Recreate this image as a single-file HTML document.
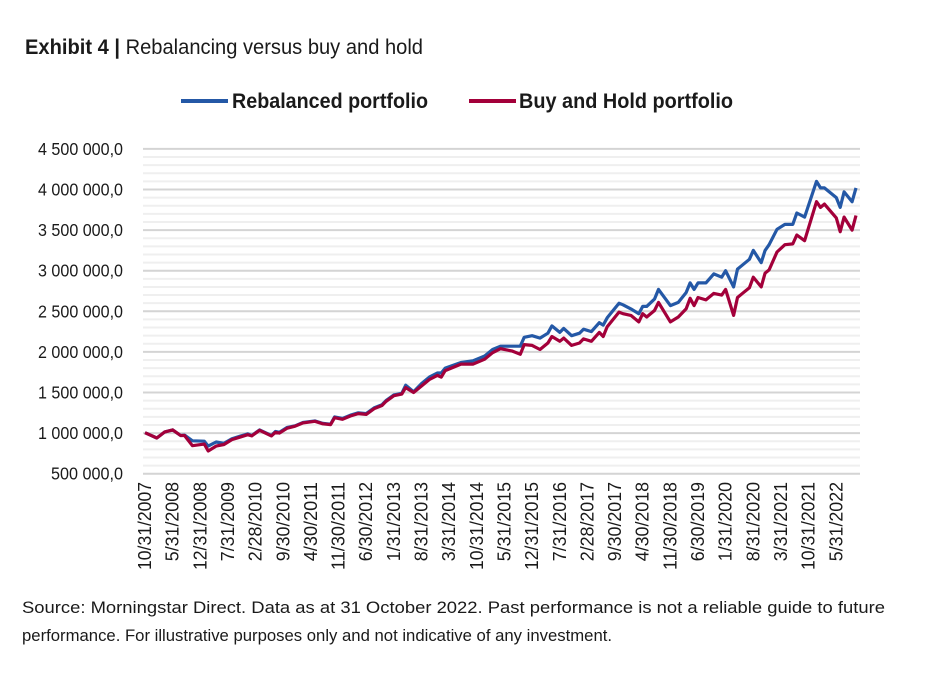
<!DOCTYPE html>
<html><head><meta charset="utf-8"><style>
html,body{margin:0;padding:0;background:#fff;}
svg{display:block;}
text{font-family:"Liberation Sans Narrow","Liberation Sans",sans-serif;fill:#1a1a1a;}
</style></head><body>
<svg id="chart" width="925" height="676" viewBox="0 0 925 676" xmlns="http://www.w3.org/2000/svg">
<text x="25" y="54" font-size="21" textLength="398" lengthAdjust="spacingAndGlyphs"><tspan font-weight="bold">Exhibit 4 |</tspan> Rebalancing versus buy and hold</text>
<g>
<g>
<line x1="181" y1="101" x2="228" y2="101" stroke="#2458a6" stroke-width="4"/>
<text x="232" y="108" font-size="21" font-weight="bold" textLength="196" lengthAdjust="spacingAndGlyphs">Rebalanced portfolio</text>
</g>
<g>
<line x1="469" y1="101" x2="516" y2="101" stroke="#a3003a" stroke-width="4"/>
<text x="519" y="108" font-size="21" font-weight="bold" textLength="214" lengthAdjust="spacingAndGlyphs">Buy and Hold portfolio</text>
</g>
</g>
<g id="grid"></g>
<g id="yaxis"></g>
<g id="xaxis"></g>
<g id="series"></g>
<g>
<text x="22" y="613" font-size="17" textLength="863" lengthAdjust="spacingAndGlyphs">Source: Morningstar Direct. Data as at 31 October 2022. Past performance is not a reliable guide to future</text>
<text x="22" y="641" font-size="17" textLength="590" lengthAdjust="spacingAndGlyphs">performance. For illustrative purposes only and not indicative of any investment.</text>
</g>
</svg>
<script>
// months since 10/31/2007
const months = [0,3,5,7,9,10,12,15,16,18,20,22,24,26,27,29,32,33,34,36,38,40,43,45,47,48,50,52,54,56,58,60,61,63,65,66,68,70,72,74,75,76,80,83,86,88,90,93,95,96,98,100,102,103,105,106,108,110,111,113,115,116,117,120,121,123,125,126,127,129,130,133,135,137,138,139,140,142,144,146,147,149,150,151,153,154,156,157,158,160,162,164,165,167,170,171,172,175,176,177,179,180];
const rebalanced = [1.005,0.94,1.015,1.04,0.97,0.975,0.905,0.9,0.84,0.89,0.875,0.93,0.96,0.99,0.97,1.04,0.97,1.02,1.01,1.07,1.09,1.13,1.15,1.12,1.11,1.2,1.18,1.22,1.25,1.24,1.31,1.35,1.40,1.47,1.49,1.59,1.51,1.61,1.69,1.74,1.74,1.80,1.87,1.89,1.95,2.03,2.07,2.07,2.07,2.18,2.2,2.17,2.23,2.32,2.24,2.29,2.2,2.23,2.28,2.25,2.36,2.33,2.42,2.6,2.58,2.53,2.47,2.56,2.56,2.65,2.77,2.57,2.61,2.73,2.85,2.77,2.85,2.85,2.96,2.92,3.0,2.8,3.02,3.06,3.14,3.25,3.1,3.25,3.32,3.51,3.57,3.57,3.71,3.66,4.1,4.02,4.02,3.9,3.78,3.97,3.85,4.02];
const buyHold = [1.005,0.94,1.015,1.04,0.97,0.97,0.845,0.865,0.78,0.84,0.86,0.92,0.95,0.98,0.965,1.035,0.965,1.01,1.0,1.06,1.085,1.125,1.145,1.115,1.105,1.19,1.17,1.21,1.24,1.23,1.3,1.34,1.39,1.46,1.48,1.56,1.50,1.58,1.66,1.71,1.69,1.77,1.85,1.85,1.91,1.99,2.04,2.01,1.97,2.09,2.08,2.03,2.11,2.19,2.13,2.17,2.08,2.11,2.16,2.13,2.24,2.19,2.31,2.49,2.47,2.45,2.37,2.47,2.43,2.51,2.61,2.37,2.43,2.53,2.66,2.57,2.67,2.64,2.72,2.7,2.77,2.45,2.67,2.71,2.79,2.92,2.8,2.97,3.01,3.23,3.32,3.33,3.44,3.37,3.85,3.78,3.82,3.65,3.48,3.66,3.5,3.68];
const yTicks = [0.5,1,1.5,2,2.5,3,3.5,4,4.5];
const yTickLabels = ["500 000,0","1 000 000,0","1 500 000,0","2 000 000,0","2 500 000,0","3 000 000,0","3 500 000,0","4 000 000,0","4 500 000,0"];
const xLabelMonths = [0,7,14,21,28,35,42,49,56,63,70,77,84,91,98,105,112,119,126,133,140,147,154,161,168,175];
const xLabels = ["10/31/2007","5/31/2008","12/31/2008","7/31/2009","2/28/2010","9/30/2010","4/30/2011","11/30/2011","6/30/2012","1/31/2013","8/31/2013","3/31/2014","10/31/2014","5/31/2015","12/31/2015","7/31/2016","2/28/2017","9/30/2017","4/30/2018","11/30/2018","6/30/2019","1/31/2020","8/31/2020","3/31/2021","10/31/2021","5/31/2022"];

const NS="http://www.w3.org/2000/svg";
const X0=145, PXM=3.95, Y0=473.7, PXV=81.2, XL=143, XR=860;
function xs(m){return X0+m*PXM;}
function ys(v){return Y0-(v-0.5)*PXV;}
function mk(tag,parent,attrs){const e=document.createElementNS(NS,tag);for(const k in attrs)e.setAttribute(k,attrs[k]);parent.appendChild(e);return e;}
const grid=document.getElementById('grid');
for(let v=0.5;v<=4.5001;v+=0.1){
  const major=Math.abs(v*2-Math.round(v*2))<1e-6;
  const l=mk('line',grid,{x1:XL,x2:XR,y1:ys(v),y2:ys(v),stroke:major?'#d4d4d4':'#efefef','stroke-width':2});
  
  
}
const ya=document.getElementById('yaxis');
yTicks.forEach((v,i)=>{
  const len=yTickLabels[i].length>9?85:72;
  const t=mk('text',ya,{x:123-len,y:ys(v)+6,'font-size':17.5,textLength:len,lengthAdjust:'spacingAndGlyphs'});
  t.textContent=yTickLabels[i];
  
  
});
const xa=document.getElementById('xaxis');
xLabelMonths.forEach((m,i)=>{
  const x=xs(m)+6;
  const len=xLabels[i].length*8.8;
  const t=mk('text',xa,{x:-482-len,y:0,'font-size':18,textLength:len,lengthAdjust:'spacingAndGlyphs',transform:`translate(${x},0) rotate(-90)`});
  t.textContent=xLabels[i];
  
  
});
const sg=document.getElementById('series');
function line(vals,color,name){
  const d=months.map((m,i)=>(i?'L':'M')+xs(m).toFixed(1)+','+ys(vals[i]).toFixed(1)).join('');
  const p=mk('path',sg,{d:d,fill:'none',stroke:color,'stroke-width':3.2,'stroke-linejoin':'round'});
  
  
}
line(rebalanced,'#2458a6','rebalanced-line');
line(buyHold,'#a3003a','buy-and-hold-line');
</script>
</body></html>
